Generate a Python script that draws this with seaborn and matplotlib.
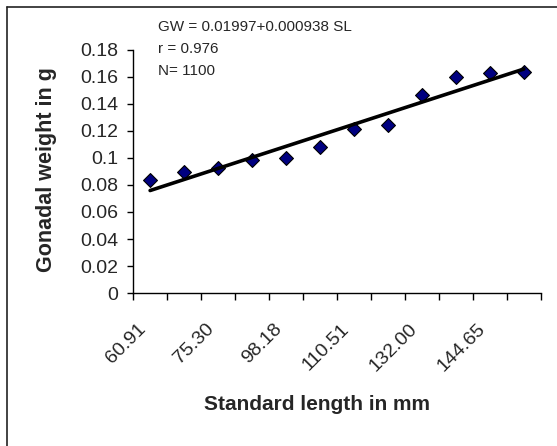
"""
plot.py - Peso gonadal x comprimento padrão (gráfico de dispersão + tendência linear)
"""

import matplotlib
matplotlib.use("Agg")
import matplotlib.pyplot as plt
import seaborn as sns
import numpy as np
from matplotlib.transforms import ScaledTranslation
from matplotlib.lines import Line2D

# ─── Dados ────────────────────────────────────────────────────────────────────
categoria = list(range(12))  # classes de comprimento (eixo de categorias)
peso_gonadal = [0.0835, 0.0894, 0.0926, 0.0982, 0.0999, 0.1085,
                0.1217, 0.1244, 0.1464, 0.1597, 0.1626, 0.1638]

rotulo_pos = [0, 2, 4, 6, 8, 10]
rotulo_sl = ["60.91", "75.30", "98.18", "110.51", "132.00", "144.65"]

y_ticks = [0, 0.02, 0.04, 0.06, 0.08, 0.1, 0.12, 0.14, 0.16, 0.18]
y_rotulos = ["0", "0.02", "0.04", "0.06", "0.08", "0.1", "0.12", "0.14", "0.16", "0.18"]

equacao = ["GW = 0.01997+0.000938 SL", "r = 0.976", "N= 1100"]

# ─── Estilo ───────────────────────────────────────────────────────────────────
sns.set_style("white")
plt.rcParams["font.family"] = ["Liberation Sans", "DejaVu Sans"]

fig = plt.figure(figsize=(5.57, 4.46), dpi=100)
ax = fig.add_axes([0.239, 0.343, 0.732, 0.545])

# pontos (losangos azul-marinho)
sns.scatterplot(x=categoria, y=peso_gonadal, marker="D", s=50,
                color="#000080", edgecolor="black", linewidth=0.8,
                ax=ax, zorder=3)

# linha de tendência linear
sns.regplot(x=categoria, y=peso_gonadal, ci=None, scatter=False, ax=ax,
            line_kws=dict(color="black", linewidth=2.6, zorder=4))

ax.set_xlim(-0.5, 11.5)
ax.set_ylim(0, 0.18)

# eixo y
ax.set_yticks(y_ticks)
ax.set_yticklabels(y_rotulos)
ax.tick_params(axis="y", direction="out", length=4.5, width=1, color="black",
               labelsize=14, pad=6, left=True)

# eixo x: marcas entre categorias, rótulos no centro
ax.set_xticks(np.arange(-0.5, 12, 1), minor=True)
ax.set_xticks(rotulo_pos)
ax.set_xticklabels(rotulo_sl, rotation=45, ha="right", va="center",
                   rotation_mode="anchor")
ax.tick_params(axis="x", which="major", length=0, labelsize=14, pad=24)
ax.tick_params(axis="x", which="minor", direction="out", length=5, width=1,
               color="black", bottom=True)
desloc = ScaledTranslation(-7 / 100, 0, fig.dpi_scale_trans)
for lbl in ax.get_xticklabels():
    lbl.set_transform(lbl.get_transform() + desloc)

for lado in ["top", "right"]:
    ax.spines[lado].set_visible(False)
for lado in ["left", "bottom"]:
    ax.spines[lado].set_color("black")
    ax.spines[lado].set_linewidth(1)

# títulos dos eixos
ax.set_xlabel("")
ax.set_ylabel("")
fig.text(317 / 557, 1 - 405 / 446, "Standard length in mm", fontsize=15,
         fontweight="bold", ha="center", va="center")
fig.text(47 / 557, 1 - 170 / 446, "Gonadal weight in g", fontsize=15.5,
         fontweight="bold", ha="center", va="center", rotation=90)

# equação da regressão
for i, linha in enumerate(equacao):
    fig.text(158 / 557, 1 - (27 + 22 * i) / 446, linha, fontsize=11,
             ha="left", va="center")

# moldura da área do gráfico (cortada à direita e embaixo)
fig.add_artist(Line2D([7 / 557, 1], [1 - 7 / 446, 1 - 7 / 446],
                      transform=fig.transFigure, color="#222222", linewidth=1.2))
fig.add_artist(Line2D([7 / 557, 7 / 557], [0, 1 - 7 / 446],
                      transform=fig.transFigure, color="#222222", linewidth=1.2))

fig.savefig("out.png", dpi=100)
plt.close(fig)
